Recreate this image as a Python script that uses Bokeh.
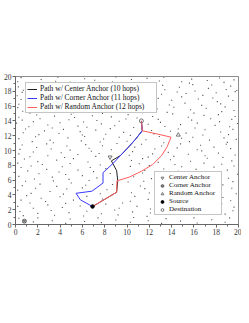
from bokeh.plotting import figure
from bokeh.models import Range1d, SingleIntervalTicker, Legend, LegendItem
from bokeh.embed import file_html
from bokeh.resources import INLINE

# ---- data ----
node_pts = [
    (0.2,19.3),(0.5,19.85),(1.7,19.1),(2.3,19.6),(3.6,19.35),(3.8,19.9),(4.9,19.2),(6.2,19.7),(6.6,19.05),(7.1,19.5),(8.7,19.25),(9.0,19.95),
    (10.4,19.6),(11.5,19.15),(11.8,19.75),(12.9,19.4),(13.3,19.9),(14.9,19.3),(15.6,19.1),(15.8,19.65),(17.2,19.45),(18.3,19.8),(18.7,19.2),(19.6,19.55),
    (0.25,18.6),(0.7,18.15),(4.4,18.93),(9.8,18.95),(12.55,18.3),(13.2,18.8),(13.4,18.2),(14.7,18.55),(15.9,18.9),(16.1,18.05),(17.3,18.4),(17.6,18.85),
    (18.9,18.25),(19.3,18.7),(19.85,18.1),
    (0.15,17.4),(0.6,17.85),(12.8,17.05),(13.1,17.6),(14.5,17.9),(14.9,17.25),(15.3,17.7),(16.8,17.45),(17.7,17.1),(18.0,17.8),(19.1,17.35),(19.7,17.95),
    (0.3,16.25),(0.5,16.9),(12.6,16.55),(13.8,16.15),(14.0,16.8),(15.2,16.4),(16.4,16.95),(16.7,16.1),(18.1,16.6),(18.4,16.3),(19.5,16.75),
    (0.2,15.8),(0.65,15.3),(1.3,15.05),(5.2,15.1),(7.8,15.02),(11.4,15.1),(12.7,15.6),(13.6,15.15),(14.2,15.85),(15.7,15.5),(16.0,15.05),(17.1,15.7),
    (18.5,15.25),(18.8,15.9),(19.6,15.4),
    (0.3,14.5),(0.6,14.1),(1.9,14.8),(2.2,14.3),(3.5,14.65),(4.8,14.15),(5.0,14.9),(5.3,14.45),(6.9,14.7),(7.3,14.05),(8.6,14.55),(9.9,14.25),(10.1,14.85),
    (10.9,14.4),(12.3,14.6),(12.8,14.2),(14.1,14.95),(15.5,14.5),(15.8,14.1),(16.9,14.75),(17.5,14.3),(18.2,14.85),(19.4,14.2),(19.7,14.6),
    (0.1,13.7),(1.2,13.2),(1.6,13.9),(2.9,13.45),(3.3,13.05),(4.0,13.75),(5.6,13.3),(6.1,13.85),(6.4,13.15),(7.7,13.6),(8.9,13.35),(9.3,13.95),(10.6,13.1),
    (11.9,13.55),(13.0,13.8),(13.4,13.25),(14.8,13.5),(16.1,13.05),(16.3,13.7),(17.9,13.4),(18.3,13.9),(19.2,13.2),(19.9,13.65),
    (0.7,12.4),(0.9,12.9),(2.1,12.15),(2.6,12.65),(3.9,12.3),(4.3,12.85),(5.8,12.55),(6.0,12.1),(7.2,12.75),(8.1,12.2),(8.5,12.95),(9.7,12.45),(10.3,12.05),
    (12.2,12.7),(12.4,12.25),(13.9,12.6),(14.6,12.9),(15.3,12.35),(16.8,12.1),(17.0,12.8),(18.4,12.5),(19.1,12.15),(19.5,12.85),
    (0.3,11.6),(1.5,11.2),(1.8,11.85),(3.1,11.4),(3.4,11.05),(4.7,11.7),(5.9,11.3),(6.2,11.9),(7.6,11.15),(7.9,11.55),(9.3,11.8),(10.0,11.25),
    (11.7,11.45),(12.9,11.9),(13.3,11.05),(14.9,11.65),(15.6,11.2),(15.9,11.8),(17.4,11.4),(18.7,11.7),(19.0,11.1),(19.8,11.5),
    (0.4,10.15),(0.6,10.75),(1.9,10.4),(2.8,10.9),(3.2,10.2),(4.6,10.6),(4.9,10.05),(6.3,10.8),(6.6,10.3),(7.8,10.65),(8.6,10.1),(9.1,10.95),
    (10.7,10.45),(11.3,10.85),(12.5,10.2),(13.1,10.6),(14.5,10.35),(14.8,10.9),(16.3,10.1),(16.6,10.7),(17.8,10.45),(18.9,10.85),(19.3,10.25),
    (0.3,9.55),(1.3,9.15),(1.6,9.8),(2.9,9.3),(4.1,9.7),(4.4,9.05),(5.6,9.45),(6.8,9.9),(7.2,9.2),(7.5,9.6),(10.2,9.35),(10.5,9.85),(11.9,9.1),
    (12.3,9.55),(13.7,9.75),(14.2,9.2),(15.5,9.5),(16.7,9.95),(17.0,9.3),(18.2,9.65),(18.6,9.05),(19.7,9.4),
    (0.2,8.3),(0.8,8.85),(2.0,8.5),(2.4,8.1),(3.7,8.7),(4.9,8.25),(5.2,8.9),(6.5,8.45),(7.6,8.05),(10.4,8.65),(11.1,8.2),(11.4,8.9),(12.8,8.4),
    (13.9,8.75),(14.3,8.1),(15.7,8.55),(16.9,8.3),(17.2,8.95),(18.5,8.15),(19.4,8.6),
    (0.5,7.7),(1.1,7.25),(1.4,7.9),(2.8,7.45),(3.9,7.1),(4.2,7.8),(5.6,7.35),(6.7,7.7),(7.0,7.15),(8.1,7.55),(10.3,7.85),(11.6,7.3),(12.0,7.95),
    (13.3,7.5),(14.6,7.2),(14.9,7.8),(16.2,7.45),(17.5,7.1),(17.8,7.75),(19.0,7.35),(19.6,7.9),
    (0.3,6.5),(1.7,6.15),(2.1,6.85),(3.3,6.4),(4.5,6.75),(4.8,6.1),(6.0,6.6),(7.3,6.3),(8.5,6.9),(10.6,6.45),(11.4,6.95),(12.2,6.2),(18.4,6.7),
    (19.1,6.25),(19.9,6.8),
    (0.6,5.25),(0.9,5.85),(2.2,5.45),(3.4,5.9),(3.7,5.15),(5.0,5.6),(6.3,5.3),(6.6,5.95),(8.7,5.4),(10.1,5.75),(11.2,5.2),(11.5,5.85),(18.6,5.35),(19.5,5.8),
    (0.2,4.65),(1.4,4.2),(1.8,4.9),(3.1,4.45),(4.3,4.1),(4.6,4.8),(6.0,4.95),(7.6,4.15),(8.2,4.7),(10.4,4.3),(11.6,4.85),(12.0,4.25),(18.3,4.5),
    (19.4,4.9),(19.8,4.15),
    (0.5,3.3),(1.0,3.9),(2.3,3.55),(2.7,3.1),(4.0,3.75),(5.2,3.3),(6.4,3.8),(7.8,3.45),(10.3,3.15),(10.7,3.8),(11.9,3.4),(18.6,3.65),(19.3,3.2),
    (0.2,2.45),(1.3,2.9),(1.6,2.2),(2.9,2.65),(4.2,2.3),(4.5,2.85),(5.8,2.5),(8.1,2.75),(9.3,2.2),(9.6,2.9),(10.9,2.45),(12.1,2.1),(18.5,2.8),(19.6,2.35),
    (0.4,1.75),(0.7,1.2),(2.0,1.5),(3.2,1.9),(3.5,1.25),(4.8,1.6),(6.1,1.15),(6.4,1.8),(7.7,1.45),(8.9,1.95),(9.2,1.3),(10.5,1.7),(11.8,1.1),
    (12.1,1.55),(18.8,1.4),(19.5,1.85),
    (0.3,0.85),(1.6,0.35),(2.0,0.9),(3.3,0.5),(4.5,0.15),(4.9,0.75),(6.2,0.4),(7.4,0.9),(7.7,0.25),(9.0,0.6),(10.3,0.3),(10.6,0.95),(11.9,0.5),
    (13.1,0.15),(13.5,0.8),(14.8,0.45),(16.0,0.9),(16.3,0.2),(17.6,0.65),(18.8,0.3),(19.2,0.9),
]
node_x = [p[0] for p in node_pts]
node_y = [p[1] for p in node_pts]

center_path_x = [6.91, 8.00, 9.07, 9.17, 9.07, 8.60, 9.40, 10.10, 10.75, 11.37, 11.29]
center_path_y = [2.43, 3.40, 4.36, 5.90, 7.28, 8.60, 9.30, 10.40, 11.50, 12.67, 14.00]

corner_path_x = [6.91, 5.82, 5.43, 6.85, 7.85, 7.85, 8.78, 9.40, 10.10, 10.75, 11.37, 11.29]
corner_path_y = [2.43, 3.33, 4.22, 4.50, 5.60, 7.00, 8.30, 9.30, 10.40, 11.50, 12.67, 14.00]

random_path_x = [6.91, 8.00, 9.07, 9.10, 10.20, 11.30, 12.30, 13.10, 13.60, 13.95, 12.80, 11.37, 11.29]
random_path_y = [2.43, 3.40, 4.36, 5.90, 6.40, 7.20, 8.10, 9.30, 10.50, 11.80, 12.20, 12.67, 14.00]

center_anchor = (8.48, 9.1)
corner_anchor = (0.8, 0.45)
random_anchor = (14.6, 12.1)
source = (6.91, 2.43)
destination = (11.29, 14.0)

path_labels = ["Path w/ Center Anchor (10 hops)", "Path w/ Corner Anchor (11 hops)", "Path w/ Random Anchor (12 hops)"]
marker_labels = ["Center Anchor", "Corner Anchor", "Random Anchor", "Source", "Destination"]

FONT = "Liberation Serif"

p = figure(width=241, height=242, output_backend="svg", toolbar_location=None,
           x_range=Range1d(0, 20), y_range=Range1d(0, 20),
           min_border_top=76, min_border_bottom=18, min_border_left=0, min_border_right=3)
p.background_fill_color = "white"
p.border_fill_color = "white"
p.outline_line_color = "#8c8c8c"
p.xgrid.visible = False
p.ygrid.visible = False

for ax in (p.xaxis, p.yaxis):
    ax.ticker = SingleIntervalTicker(interval=2, num_minor_ticks=2)
    ax.major_label_text_font = FONT
    ax.major_label_text_font_size = "7.5px"
    ax.major_label_text_color = "#333333"
    ax.axis_line_color = "#666666"
    ax.major_tick_line_color = "#666666"
    ax.minor_tick_line_color = "#666666"
    ax.major_tick_out = 3
    ax.major_tick_in = 0
    ax.minor_tick_out = 2
    ax.minor_tick_in = 0
    ax.major_label_standoff = 1

p.scatter(node_x, node_y, marker="square", size=1.1, fill_color="#555555", line_color=None)

r_c = p.line(center_path_x, center_path_y, line_color="#222222", line_width=1)
r_k = p.line(corner_path_x, corner_path_y, line_color="#3a3aff", line_width=1)
r_r = p.line(random_path_x, random_path_y, line_color="#ff5c5c", line_width=1)

m_c = p.scatter([center_anchor[0]], [center_anchor[1]], marker="inverted_triangle", size=4,
                fill_color=None, line_color="#555555", line_width=0.8)
m_k = p.scatter([corner_anchor[0]], [corner_anchor[1]], marker="circle_x", size=4,
                fill_color="#bbbbbb", line_color="#555555", line_width=0.8)
m_r = p.scatter([random_anchor[0]], [random_anchor[1]], marker="triangle", size=4,
                fill_color=None, line_color="#555555", line_width=0.8)
m_s = p.scatter([source[0]], [source[1]], marker="circle", size=3.5,
                fill_color="black", line_color="black")
m_d = p.scatter([destination[0]], [destination[1]], marker="circle", size=4,
                fill_color=None, line_color="#555555", line_width=0.8)

leg1 = Legend(items=[LegendItem(label=l, renderers=[r]) for l, r in zip(path_labels, [r_c, r_k, r_r])],
              location=(10, 111), orientation="vertical")
leg1.label_text_font = FONT
leg1.label_text_font_size = "7.5px"
leg1.label_text_color = "#111111"
leg1.glyph_width = 10
leg1.glyph_height = 8
leg1.label_standoff = 3
leg1.label_height = 8
leg1.label_width = 115
leg1.padding = 1
leg1.spacing = 0
leg1.margin = 0
leg1.border_line_color = "#8c8c8c"
leg1.border_line_width = 1
leg1.background_fill_color = "white"
leg1.background_fill_alpha = 1
p.add_layout(leg1, "center")

leg2 = Legend(items=[LegendItem(label=l, renderers=[r]) for l, r in zip(marker_labels, [m_c, m_k, m_r, m_s, m_d])],
              location=(139, 9), orientation="vertical")
leg2.label_text_font = FONT
leg2.label_text_font_size = "7px"
leg2.label_text_color = "#111111"
leg2.glyph_width = 12
leg2.glyph_height = 7
leg2.label_standoff = 1
leg2.label_height = 7
leg2.label_width = 51
leg2.padding = 1
leg2.spacing = 0
leg2.margin = 0
leg2.border_line_color = "#8c8c8c"
leg2.border_line_width = 1
leg2.background_fill_color = "white"
leg2.background_fill_alpha = 1
p.add_layout(leg2, "center")

open("out.html", "w").write(file_html(p, INLINE))
